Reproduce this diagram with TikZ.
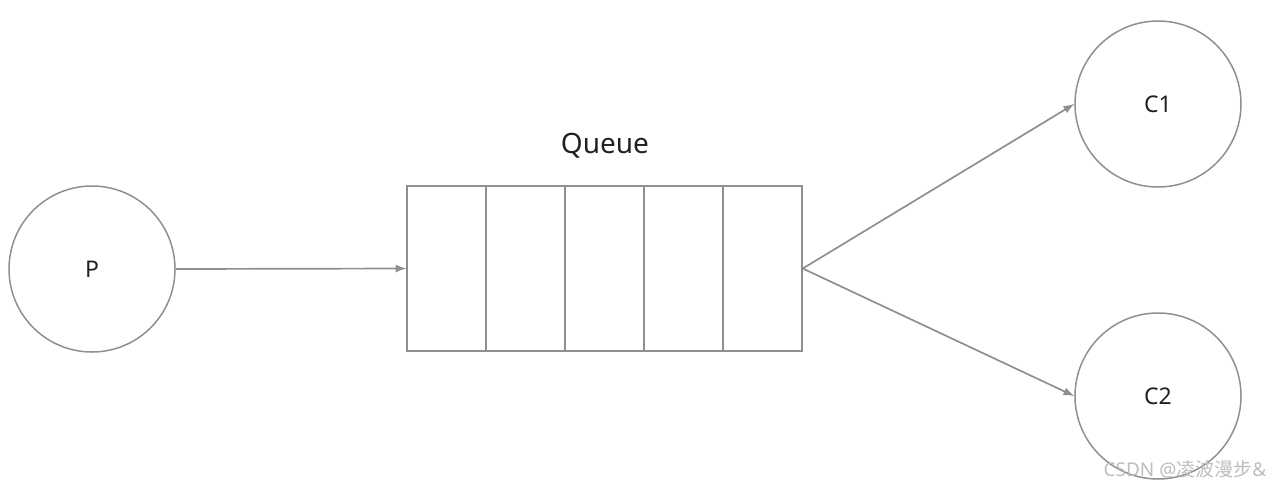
\documentclass[tikz,border=0pt]{standalone}
\usepackage{fontspec}
\setmainfont{Noto Sans}
\newfontfamily\cjk{Noto Sans CJK SC}
\usetikzlibrary{arrows}
\definecolor{mgray}{rgb}{0.56, 0.56, 0.56}
\definecolor{mtext}{rgb}{0.13, 0.13, 0.13}
\definecolor{mmark}{rgb}{0.74, 0.74, 0.74}

\begin{document}
\begin{tikzpicture}[x=0.5pt, y=-0.5pt,
    circ/.style={draw=mgray, line width=0.75pt, circle, minimum size=83pt, inner sep=0pt, text=mtext, font=\fontsize{11.5}{13}\selectfont},
    cell/.style={draw=mgray, line width=0.75pt, minimum width=39.5pt, minimum height=82.5pt, inner sep=0pt},
    conn/.style={draw=mgray, line width=0.85pt, -latex}]
      \useasboundingbox (0, 0) rectangle (1280, 489);
      \node [circ] (p) at (92, 269) {P};
      \node [circ] (c1) at (1158, 104) {C1};
      \node [circ] (c2) at (1158, 396) {C2};
      \foreach \i in {0,...,4}
        \node [cell] (q\i) at (446.5+79*\i, 268.5) {};
      \node [text=mtext, font=\fontsize{14}{15}\selectfont] (qlabel) at (605, 146) {Queue};
      \draw [conn] (p.east) -- (q0.west);
      \draw [conn] (q4.east) -- (c1.west);
      \draw [conn] (q4.east) -- (c2.west);
      \node [mmark, font=\fontsize{9.5}{10}\selectfont] (mark) at (1185, 469) {CSDN @{\cjk 凌波漫步}\&};
    \end{tikzpicture}
\end{document}
